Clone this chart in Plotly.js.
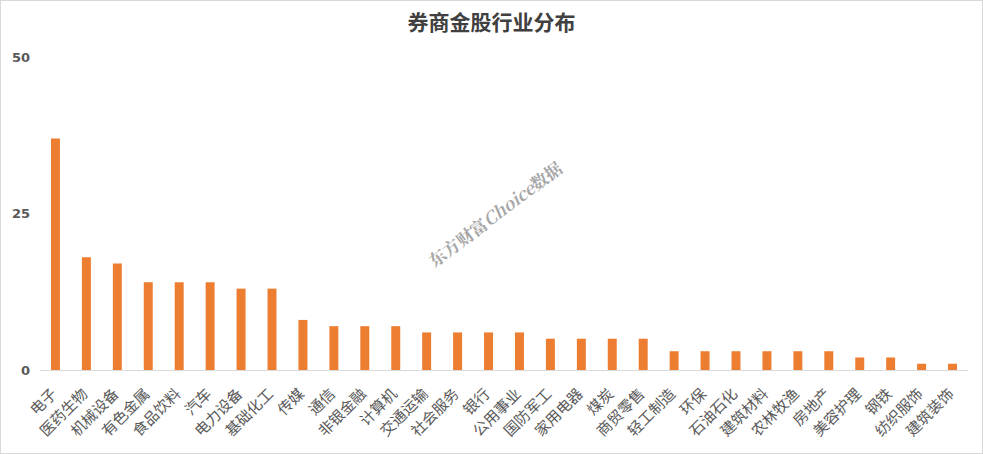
<!DOCTYPE html>
<html><head><meta charset="utf-8">
<script src="https://cdn.plot.ly/plotly-3.0.1.min.js"></script>
<style>
html,body{margin:0;padding:0;background:#fff;}
#wrap{width:983px;height:454px;box-sizing:border-box;border:1px solid #d9d9d9;}
#chart{width:981px;height:452px;}
</style></head>
<body><div id="wrap"><div id="chart"></div></div>
<script>
const categories = ["电子","医药生物","机械设备","有色金属","食品饮料","汽车","电力设备","基础化工","传媒","通信","非银金融","计算机","交通运输","社会服务","银行","公用事业","国防军工","家用电器","煤炭","商贸零售","轻工制造","环保","石油石化","建筑材料","农林牧渔","房地产","美容护理","钢铁","纺织服饰","建筑装饰"];
const counts = [37,18,17,14,14,14,13,13,8,7,7,7,6,6,6,6,5,5,5,5,3,3,3,3,3,3,2,2,1,1];
const yTicks = [0,25,50];
const titleText = "券商金股行业分布";
const watermark = "东方财富<i>Choice</i>数据";

const font = "'Noto Sans CJK SC', 'Noto Sans', sans-serif";
Plotly.newPlot('chart', [{
  type: 'bar', x: categories, y: counts,
  marker: {color: '#ED7D31'}, hoverinfo: 'x+y'
}], {
  width: 981, height: 452,
  margin: {l: 39, r: 14, t: 56, b: 83, autoexpand: false},
  paper_bgcolor: '#fff', plot_bgcolor: '#fff',
  bargap: 0.71,
  showlegend: false,
  title: {text: titleText, x: 0.5, xanchor: 'center', y: 0.953, yanchor: 'middle',
    font: {family: font, size: 21, color: '#404040', weight: 'bold'}},
  xaxis: {type: 'category', tickangle: -45, ticks: '', showgrid: false,
    showline: true, linecolor: '#d9d9d9', linewidth: 1,
    ticklabelstandoff: 8, ticklabelshift: -3,
    tickfont: {family: font, size: 15, color: '#595959'}},
  yaxis: {range: [0, 50], tickvals: yTicks, ticktext: yTicks.map(String), showgrid: false,
    zeroline: false, showline: false, ticks: '', ticklabelstandoff: 9,
    tickfont: {family: "'DejaVu Sans', sans-serif", size: 13, color: '#595959', weight: 'bold'}},
  annotations: [{
    text: watermark, xref: 'paper', yref: 'paper', x: 0.49, y: 0.5,
    xanchor: 'center', yanchor: 'middle', showarrow: false, textangle: -37,
    font: {family: "'Noto Serif CJK SC', 'DejaVu Serif', serif", size: 17, color: '#a6a6a6', weight: 'bold'}
  }]
}, {displayModeBar: false, staticPlot: true});
</script></body></html>
